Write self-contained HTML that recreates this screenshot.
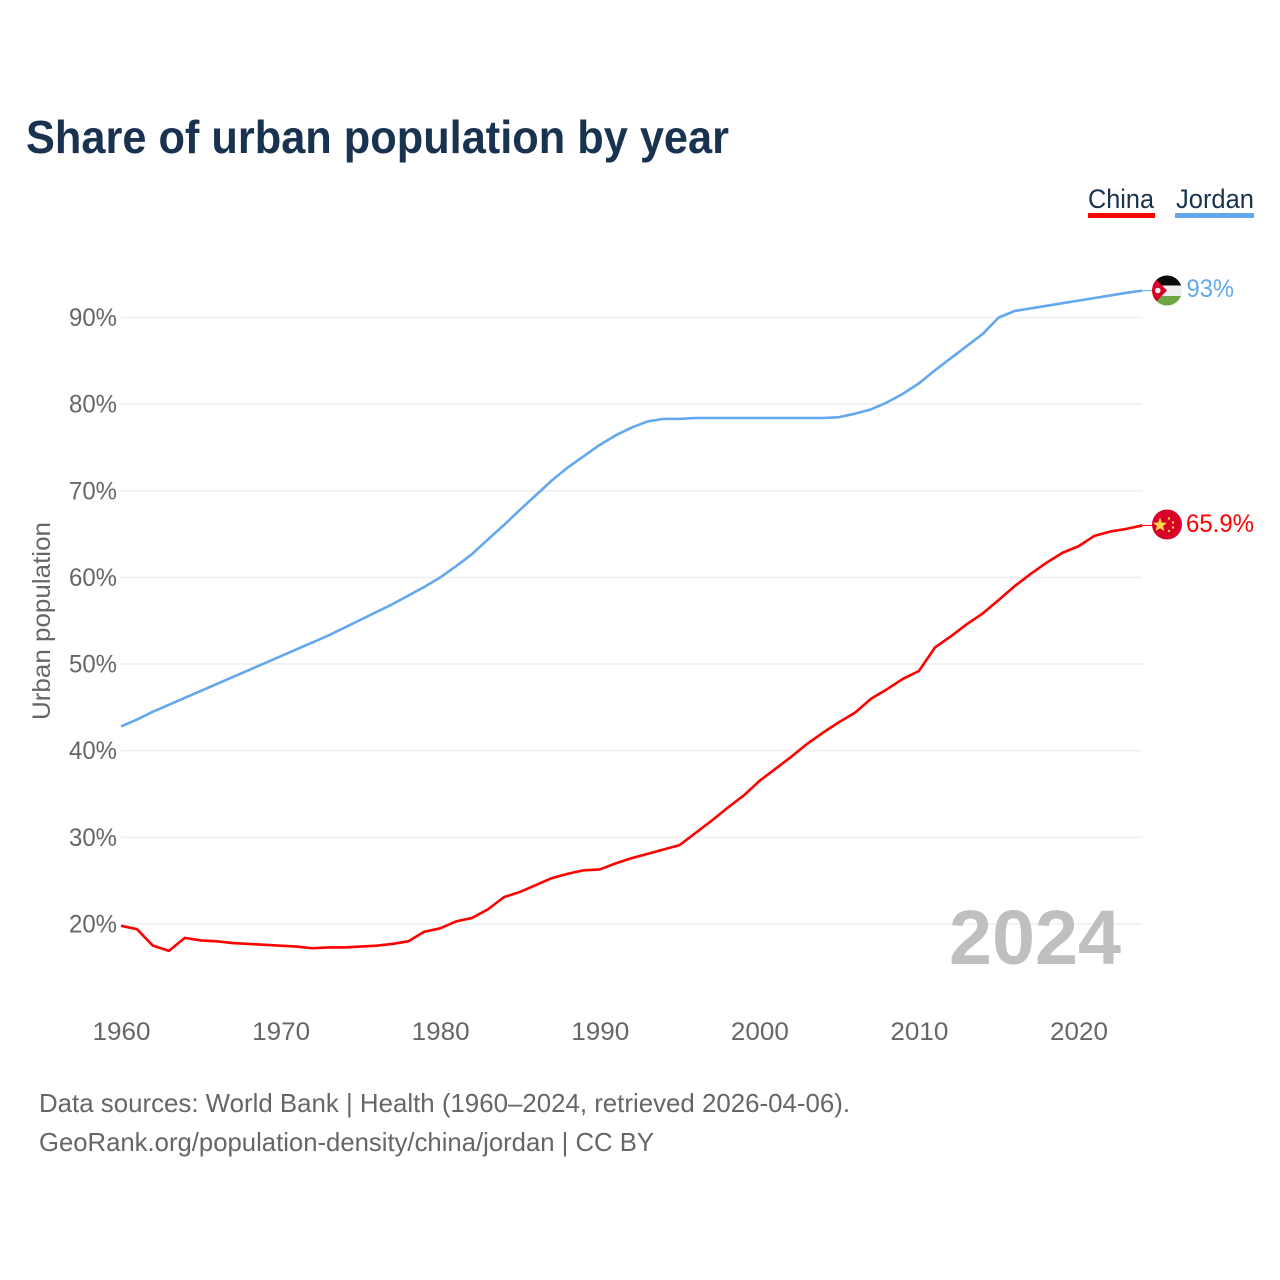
<!DOCTYPE html>
<html lang="en">
<head>
<meta charset="utf-8">
<title>Share of urban population by year</title>
<style>
html,body{margin:0;padding:0;background:#fff;width:1280px;height:1280px;overflow:hidden}
svg{display:block}
text{font-family:"Liberation Sans",sans-serif}
</style>
</head>
<body>
<svg id="chart" xmlns="http://www.w3.org/2000/svg" width="1280" height="1280" viewBox="0 0 1280 1280">
  <text x="26" y="153" font-size="46" font-weight="700" fill="#18324f" textLength="703" lengthAdjust="spacingAndGlyphs">Share of urban population by year</text>

  <g>
    <g>
      <text x="1088" y="208" font-size="27" fill="#18324f" textLength="66" lengthAdjust="spacingAndGlyphs">China</text>
      <rect x="1088" y="213" width="67" height="5" fill="#ff0000"/>
    </g>
    <g>
      <text x="1176" y="208" font-size="27" fill="#18324f" textLength="78" lengthAdjust="spacingAndGlyphs">Jordan</text>
      <rect x="1175" y="213" width="79" height="5" fill="#63a8ee"/>
    </g>
  </g>

  <g id="grid"></g>
  <g id="yticks"></g>
  <g id="xticks"></g>
  <text transform="translate(50,621) rotate(-90)" text-anchor="middle" font-size="25" fill="#666666" textLength="198" lengthAdjust="spacingAndGlyphs">Urban population</text>

  <text x="949" y="964" font-size="77" font-weight="700" fill="#bfbfbf" textLength="172" lengthAdjust="spacingAndGlyphs">2024</text>

  <g id="series"></g>

  <defs>
    <clipPath id="flag-clip-jordan"><circle cx="1167" cy="290.5" r="15"/></clipPath>
    <clipPath id="flag-clip-china"><circle cx="1167" cy="524.5" r="15"/></clipPath>
  </defs>

  <g clip-path="url(#flag-clip-jordan)">
    <rect x="1152" y="275" width="30" height="11" fill="#0a0a0a"/>
    <rect x="1152" y="285.500" width="30" height="10.500" fill="#eeeeee"/>
    <rect x="1152" y="296" width="30" height="11" fill="#6da544"/>
    <polygon points="1152,275 1167,290.5 1152,306" fill="#d80027"/>
    <circle cx="1157.800" cy="290.500" r="2.800" fill="#eeeeee"/>
  </g>
  <text x="1186.500" y="297" font-size="25" fill="#63a8ee" textLength="47.500" lengthAdjust="spacingAndGlyphs">93%</text>

  <g clip-path="url(#flag-clip-china)">
    <rect x="1152" y="509" width="30" height="31" fill="#d80027"/>
    <polygon points="1160,517.5 1161.9,522.6 1167,522.8 1163,526 1164.4,531 1160,528.2 1155.6,531 1157,526 1153,522.8 1158.100,522.6" fill="#ffda44"/>
    <circle cx="1169" cy="518.500" r="1.200" fill="#ffda44"/>
    <circle cx="1173" cy="522.500" r="1.200" fill="#ffda44"/>
    <circle cx="1173" cy="527.500" r="1.200" fill="#ffda44"/>
    <circle cx="1169" cy="531" r="1.200" fill="#ffda44"/>
  </g>
  <text x="1186" y="532" font-size="25" fill="#ff0000" textLength="68" lengthAdjust="spacingAndGlyphs">65.9%</text>

  <text x="39" y="1112" font-size="26" fill="#666666" textLength="811" lengthAdjust="spacingAndGlyphs">Data sources: World Bank | Health (1960–2024, retrieved 2026-04-06).</text>
  <text x="39" y="1151" font-size="26" fill="#666666" textLength="615" lengthAdjust="spacingAndGlyphs">GeoRank.org/population-density/china/jordan | CC BY</text>
</svg>
<script>
const years = [1960,1961,1962,1963,1964,1965,1966,1967,1968,1969,1970,1971,1972,1973,1974,1975,1976,1977,1978,1979,1980,1981,1982,1983,1984,1985,1986,1987,1988,1989,1990,1991,1992,1993,1994,1995,1996,1997,1998,1999,2000,2001,2002,2003,2004,2005,2006,2007,2008,2009,2010,2011,2012,2013,2014,2015,2016,2017,2018,2019,2020,2021,2022,2023,2024];
const chinaValues = [19.8,19.4,17.5,16.9,18.4,18.1,18.0,17.8,17.7,17.6,17.5,17.4,17.2,17.3,17.3,17.4,17.5,17.7,18.0,19.1,19.5,20.3,20.7,21.7,23.1,23.7,24.5,25.3,25.8,26.2,26.3,27.0,27.6,28.1,28.6,29.1,30.5,31.9,33.4,34.8,36.5,37.9,39.3,40.8,42.1,43.3,44.4,46.0,47.1,48.3,49.2,51.9,53.2,54.6,55.85,57.4,59.0,60.4,61.7,62.85,63.6,64.8,65.3,65.6,66.0];
const jordanValues = [42.8,43.6,44.5,45.3,46.1,46.9,47.7,48.5,49.3,50.1,50.9,51.7,52.5,53.3,54.2,55.1,56.0,56.9,57.9,58.9,60.0,61.3,62.7,64.4,66.05,67.8,69.5,71.2,72.7,74.0,75.3,76.4,77.3,78.0,78.3,78.3,78.4,78.4,78.4,78.4,78.4,78.4,78.4,78.4,78.4,78.5,78.9,79.4,80.2,81.2,82.4,83.9,85.3,86.7,88.1,90.0,90.75,91.05,91.35,91.65,91.95,92.25,92.55,92.85,93.1];
const yTickValues = [20,30,40,50,60,70,80,90];
const xTickValues = [1960,1970,1980,1990,2000,2010,2020];

const SVG_NS = 'http://www.w3.org/2000/svg';
function xScale(year){ return 121 + (year - 1960) * (1078.5 - 121) / 60; }
function yScale(value){ return 924 - (value - 20) * (924 - 317.5) / 70; }
function make(tag, attrs, parent){
  const el = document.createElementNS(SVG_NS, tag);
  for (const k in attrs) el.setAttribute(k, attrs[k]);
  parent.appendChild(el);
  return el;
}

const gridGroup = document.getElementById('grid');
const yGroup = document.getElementById('yticks');
yTickValues.forEach(function(v){
  const line = make('line', {x1:121, x2:xScale(2024), y1:yScale(v), y2:yScale(v), stroke:'#efefef', 'stroke-width':1.6}, gridGroup);
  
  
  const label = make('text', {x:117, y:yScale(v) + 8.5, 'text-anchor':'end', 'font-size':25, fill:'#666666', textLength:48, lengthAdjust:'spacingAndGlyphs'}, yGroup);
  
  
  label.textContent = v + '%';
});

const xGroup = document.getElementById('xticks');
xTickValues.forEach(function(year){
  const label = make('text', {x:xScale(year) - 28.5, y:1040, 'font-size':25, fill:'#666666', textLength:58, lengthAdjust:'spacingAndGlyphs'}, xGroup);
  
  
  label.textContent = String(year);
});

const seriesGroup = document.getElementById('series');
function drawSeries(name, values, color){
  const d = values.map(function(v, i){
    return (i ? 'L' : 'M') + xScale(years[i]).toFixed(2) + ' ' + yScale(v).toFixed(2);
  }).join(' ');
  const path = make('path', {d:d, fill:'none', stroke:color, 'stroke-width':2.6, 'stroke-linejoin':'round'}, seriesGroup);
  
  
  const last = values[values.length - 1];
  const lastX = xScale(years[years.length - 1]);
  const connector = make('line', {x1:lastX, x2:lastX + 11, y1:yScale(last), y2:yScale(last), stroke:color, 'stroke-width':1}, seriesGroup);
  
  
}
drawSeries('china', chinaValues, '#ff0000');
drawSeries('jordan', jordanValues, '#63a8ee');
</script>
</body>
</html>
